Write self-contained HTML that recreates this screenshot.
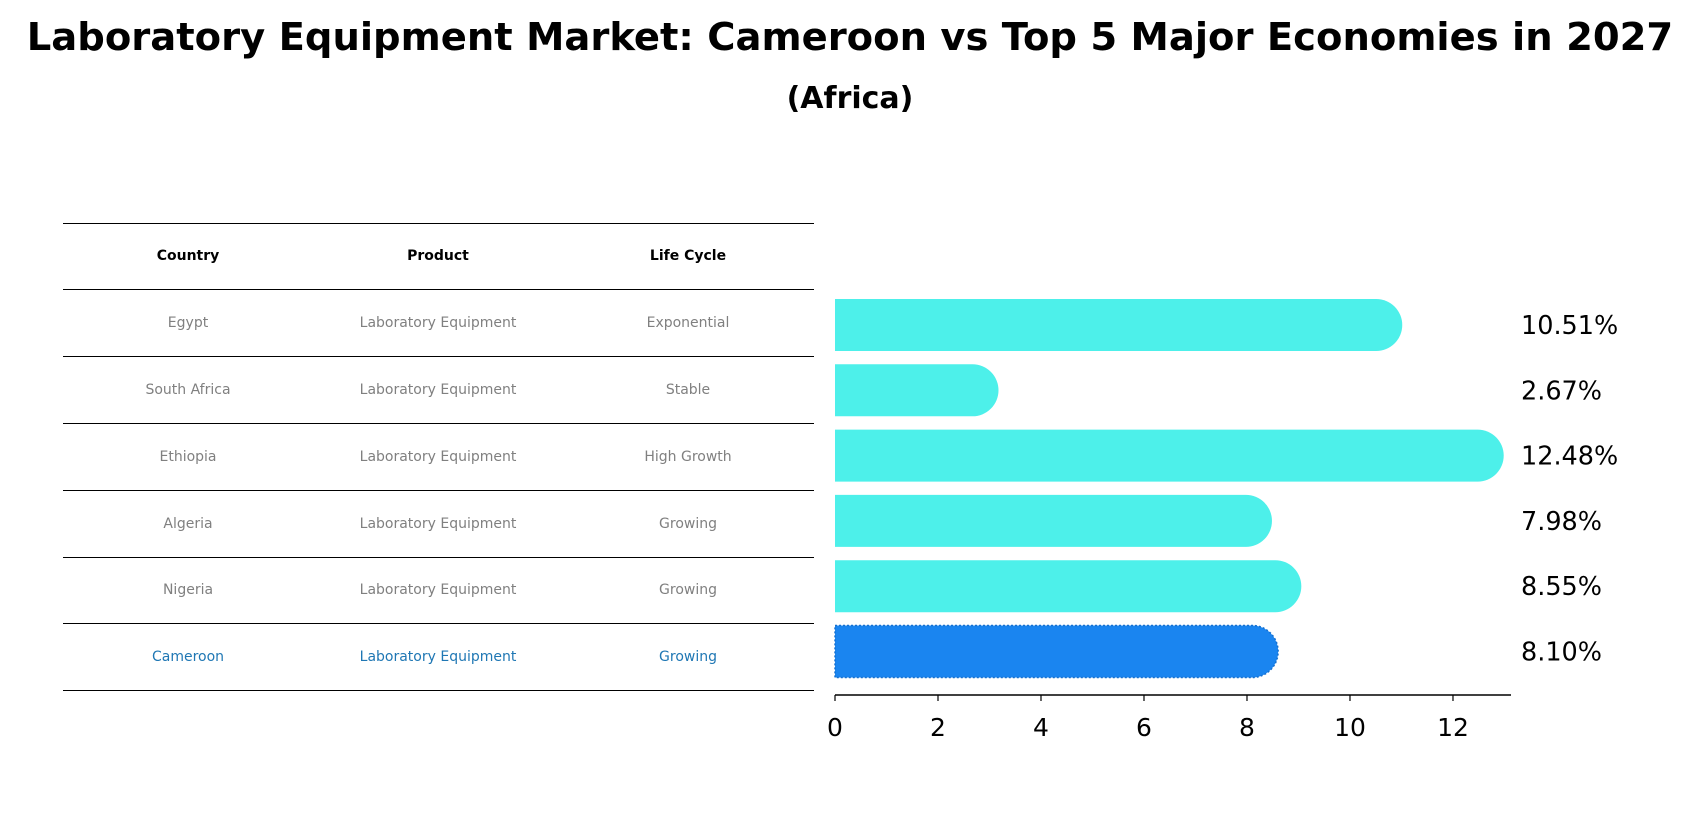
<!DOCTYPE html>
<html><head><meta charset="utf-8"><style>
body{margin:0;background:#fff;font-family:"DejaVu Sans","Liberation Sans",sans-serif;}
#wrap{position:relative;width:1700px;height:823px;overflow:hidden;}
.t{position:absolute;left:0;width:1700px;text-align:center;font-weight:bold;color:#000;}
.hl{position:absolute;left:63px;width:751px;height:1px;background:#000;}
.cell{position:absolute;width:260px;text-align:center;font-size:14px;color:#808080;transform:translate(-50%,-50%);white-space:nowrap;}
.hd{color:#000;font-weight:bold;font-size:14px;}
.cam{color:#1f77b4;}
</style></head><body>
<div id="wrap">
<div class="t" style="top:15px;font-size:38.5px;">Laboratory Equipment Market: Cameroon vs Top 5 Major Economies in 2027</div>
<div class="t" style="top:81px;font-size:30px;">(Africa)</div>
<div id="table"></div>
<svg id="svg" width="1700" height="823" style="position:absolute;left:0;top:0"></svg>
</div>
<script>
const countries=["Egypt","South Africa","Ethiopia","Algeria","Nigeria","Cameroon"];
const products=["Laboratory Equipment","Laboratory Equipment","Laboratory Equipment","Laboratory Equipment","Laboratory Equipment","Laboratory Equipment"];
const lifecycles=["Exponential","Stable","High Growth","Growing","Growing","Growing"];
const values=[10.51,2.67,12.48,7.98,8.55,8.10];
const ticks=[0,2,4,6,8,10,12];

const tbl=document.getElementById('table');
const lineYs=[223,289,356,423,490,557,623,690];
lineYs.forEach(y=>{const d=document.createElement('div');d.className='hl';d.style.top=y+'px';


tbl.appendChild(d);});
const colX=[188,438,688];
function cell(txt,x,y,cls,name){const d=document.createElement('div');d.className='cell '+cls;d.textContent=txt;d.style.left=x+'px';d.style.top=y+'px';


tbl.appendChild(d);}
["Country","Product","Life Cycle"].forEach((h,i)=>cell(h,colX[i],256,'hd','header-cell'));
countries.forEach((c,i)=>{const y=(lineYs[i+1]+lineYs[i+2])/2;const cls=c==="Cameroon"?'cam':'';
cell(c,colX[0],y,cls,'country-cell');cell(products[i],colX[1],y,cls,'product-cell');cell(lifecycles[i],colX[2],y,cls,'lifecycle-cell');});

const svg=document.getElementById('svg');const NS='http://www.w3.org/2000/svg';
const x0=835,unit=47.5*1700/1568,axisY=695,barH=52;
const xs=v=>x0+v*unit;
const yc=i=>325+i*65.3;
function el(t,a,name){const e=document.createElementNS(NS,t);for(const k in a)e.setAttribute(k,a[k]);


svg.appendChild(e);return e;}
values.forEach((v,i)=>{const cam=countries[i]==="Cameroon";const col=cam?'#1a85f0':'#4df0ea';
const y=yc(i)-barH/2,r=barH/2,xe=xs(v);
el('path',{d:`M${x0},${y} H${xe} A${r},${r} 0 0 1 ${xe},${y+barH} H${x0} Z`,fill:col,stroke:cam?'#1570d0':'none','stroke-dasharray':cam?'2,2':'','stroke-width':cam?1.5:0},'bar-'+countries[i].toLowerCase().replace(' ','-'));
const t=el('text',{x:1521,y:yc(i)+9,'font-size':25.5,fill:'#000','font-family':'DejaVu Sans, Liberation Sans, sans-serif'},'value-label');t.textContent=v.toFixed(2)+'%';});
el('line',{x1:x0,y1:axisY,x2:1511,y2:axisY,stroke:'#000','stroke-width':1.5},'x-axis-line');
ticks.forEach(v=>{el('line',{x1:xs(v),y1:axisY,x2:xs(v),y2:axisY+6,stroke:'#000','stroke-width':1.2},'x-tick');
const t=el('text',{x:xs(v),y:axisY+41,'font-size':25,'text-anchor':'middle',fill:'#000','font-family':'DejaVu Sans, Liberation Sans, sans-serif'},'x-tick-label');t.textContent=v;});
</script>
</body></html>
